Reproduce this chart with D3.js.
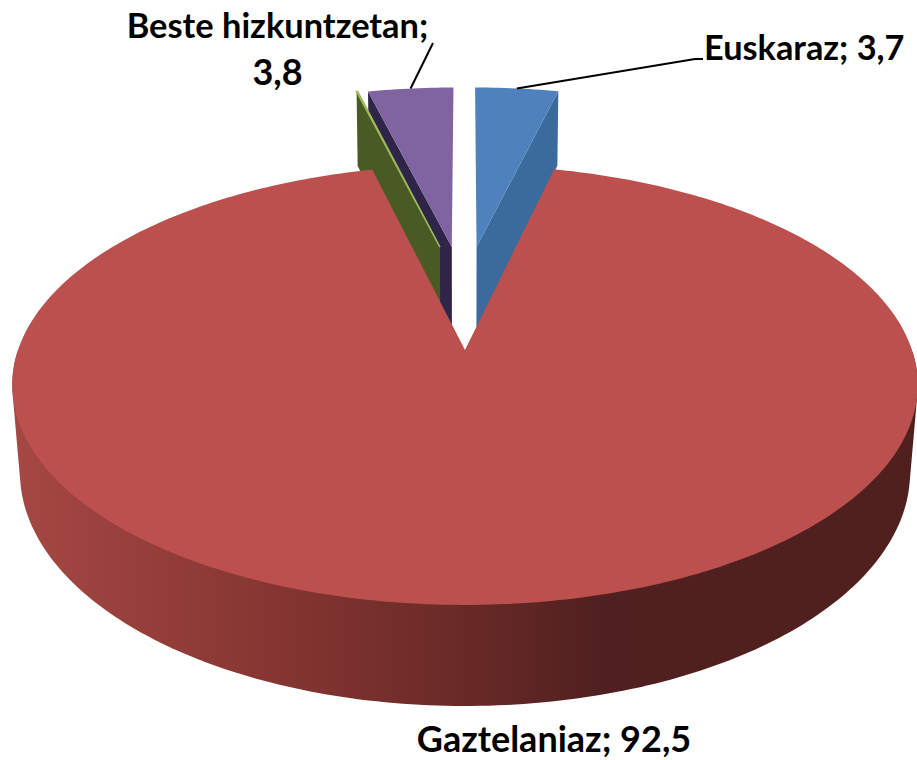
<!DOCTYPE html>
<html>
<head>
<meta charset="utf-8">
<style>html,body{margin:0;padding:0;background:#fff}svg{display:block}text{font-family:Lato,"Open Sans",sans-serif;font-weight:700;fill:#000}</style>
<script src="https://cdn.jsdelivr.net/npm/d3@7/dist/d3.min.js"></script>
</head>
<body>
<svg id="c" width="917" height="760"></svg>
<script>
// Data
const categories = ["Euskaraz", "Gaztelaniaz", "Besterik", "Beste hizkuntzetan"];
const values = [3.7, 92.5, 0.05, 3.8];
const shownValues = ["3,7", "92,5", null, "3,8"];

// Perspective projection of the pie plane
const CX = 465, CY = 350, A = 447, B = 214.4, K = 0.159;
const RED_DEPTH = 85, RED_BASE = 0.983, WEDGE_DEPTH = 92, WEDGE_BASE = 0.99;
const project = (u, v, depth = 0, scale = 1) => {
  const w = 1 + K * v;
  return [CX + scale * A * u / w, CY - B * v / w + depth / w];
};
const explode = [[0.028, 0.52], [0, 0], [-0.0606, 0.52], [-0.032, 0.52]];
const topFill = ["#4f81bd", "#bc504e", "#9bbb59", "#8064a2"];
const wallFill = ["#3b6a9d", "url(#redWall)", "#4a5a25", "#2f2548"];

const arcs = d3.pie().sort(null).startAngle(0).endAngle(2 * Math.PI)(values);
const svg = d3.select("#c");
const line = d3.line();

const wallX = d3.scaleLinear().domain([12, 917]).range([0, 1]);
const grad = svg.append("defs").append("linearGradient").attr("id", "redWall")
  .attr("gradientUnits", "userSpaceOnUse").attr("x1", 12).attr("x2", 917).attr("y1", 0).attr("y2", 0);
[[12, "#a64844"], [150, "#953e3a"], [300, "#823430"], [465, "#692a27"], [600, "#502020"], [917, "#4f201d"]]
  .forEach(([x, c]) => grad.append("stop").attr("offset", wallX(x)).attr("stop-color", c));

const rimPoint = (i, a, depth, scale) => {
  const [ou, ov] = explode[i];
  return project(ou + Math.sin(a), ov + Math.cos(a), depth, scale);
};
const angles = i => {
  const d = arcs[i];
  const n = Math.max(4, Math.ceil((d.endAngle - d.startAngle) * 60));
  return d3.range(n + 1).map(k => d.startAngle + (d.endAngle - d.startAngle) * k / n);
};
const centre = (i, depth, scale) => project(explode[i][0], explode[i][1], depth, scale);

function drawSlice(i) {
  const d = arcs[i], g = svg.append("g").attr("class", "slice");
  if (i === 1) {
    // Outer wall: hull of the front half of the top rim and of the base rim
    const front = angles(i).filter(a => Math.cos(a) <= 0);
    const pts = front.map(a => rimPoint(i, a)).concat(front.map(a => rimPoint(i, a, RED_DEPTH, RED_BASE)));
    g.append("path").attr("fill", wallFill[i]).attr("d", line(d3.polygonHull(pts)) + "Z");
  } else {
    const edge = i === 0 ? d.endAngle : d.startAngle;
    g.append("path").attr("fill", wallFill[i]).attr("d", line([
      centre(i), rimPoint(i, edge), rimPoint(i, edge, WEDGE_DEPTH, WEDGE_BASE), centre(i, WEDGE_DEPTH, WEDGE_BASE)
    ]) + "Z");
  }
  g.append("path").attr("fill", topFill[i])
    .attr("stroke", i === 2 ? topFill[i] : "none").attr("stroke-width", 1.5)
    .attr("d", line([centre(i)].concat(angles(i).map(a => rimPoint(i, a)))) + "Z");
}
[3, 2, 0, 1].forEach(drawSlice);

// Labels and leader lines
const text = (t, x, y, anchor, size) => svg.append("text").attr("x", x).attr("y", y)
  .attr("text-anchor", anchor).attr("font-size", size).text(t);
const label = i => `${categories[i]}; ${shownValues[i]}`;
const mid = i => (arcs[i].startAngle + arcs[i].endAngle) / 2;
const leader = pts => svg.append("path").attr("fill", "none").attr("stroke", "#000").attr("stroke-width", 2).attr("d", line(pts));

text(label(0), 704, 60, "start", 34.3);
text(label(1), 554, 752, "middle", 36);
text(`${categories[3]};`, 277.5, 38, "middle", 34.4);
text(shownValues[3], 277.5, 85, "middle", 36);
leader([rimPoint(0, mid(0)), [695, 59], [703, 59]]);
leader([rimPoint(3, mid(3)), [433, 43]]);
</script>
</body>
</html>
